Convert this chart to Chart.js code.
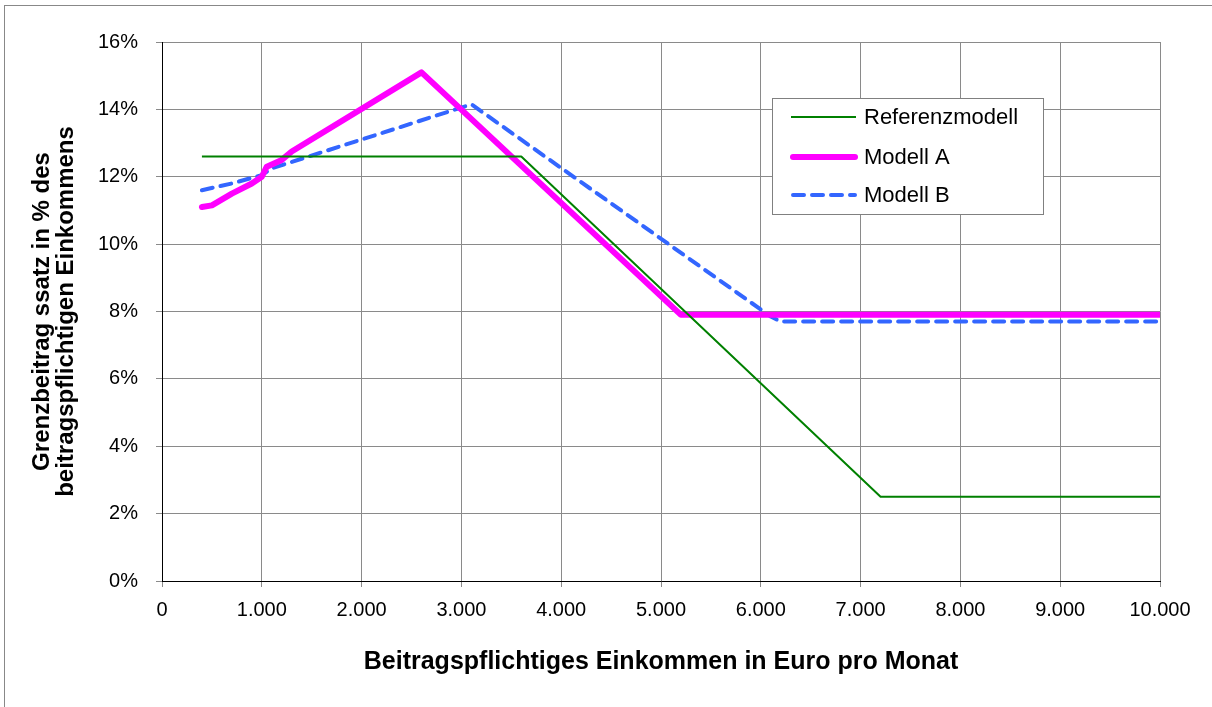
<!DOCTYPE html>
<html lang="de">
<head>
<meta charset="UTF-8">
<title>Grenzbeitragssatz</title>
<script src="https://cdn.jsdelivr.net/npm/chart.js"></script>
<style>
  html, body { margin: 0; padding: 0; background: #fff; }
  #frame { position: absolute; left: 4px; top: 5px; width: 1208px; height: 702px;
           border-top: 1px solid #888; border-left: 1px solid #888; box-sizing: border-box; }
  #wrap { position: absolute; left: 0; top: 0; width: 1212px; height: 707px; }
</style>
</head>
<body>
<div id="frame"></div>
<div id="wrap"><canvas id="chart" width="1212" height="707"></canvas></div>
<script>
// values: [Einkommen, Grenzbeitragssatz in %]
const referenzX = [400, 3600, 7200, 10000];
const referenzY = [12.6, 12.6, 2.5, 2.5];

const modellAX = [400, 500, 700, 900, 1000, 1050, 1200, 1300, 2600, 5200, 10000];
const modellAY = [11.1, 11.15, 11.5, 11.8, 12.0, 12.3, 12.5, 12.75, 15.1, 7.9, 7.9];

const modellBX = [400, 700, 1000, 1100, 3100, 6100, 6200, 10000];
const modellBY = [11.6, 11.8, 12.05, 12.25, 14.15, 7.85, 7.7, 7.7];

const seriesNames = ["Referenzmodell", "Modell A", "Modell B"];
const xTicks = [0, 1000, 2000, 3000, 4000, 5000, 6000, 7000, 8000, 9000, 10000];
const yTicks = [0, 2, 4, 6, 8, 10, 12, 14, 16];

const FONT = "'Liberation Sans', Arial, sans-serif";

function toPoints(xs, ys) {
    return xs.map((x, i) => ({ x: x, y: ys[i] }));
}

// legend box inside the plot, like the Excel original
const boxLegend = {
    id: "boxLegend",
    afterDatasetsDraw(chart) {
        const ctx = chart.ctx;
        const left = 772, top = 98, w = 271, h = 116;
        ctx.save();
        ctx.fillStyle = "#fff";
        ctx.fillRect(left, top, w, h);
        ctx.strokeStyle = "#808080";
        ctx.lineWidth = 1;
        ctx.strokeRect(left + 0.5, top + 0.5, w, h);
        const rows = [117, 157, 195];
        chart.data.datasets.forEach((ds, i) => {
            ctx.beginPath();
            ctx.strokeStyle = ds.borderColor;
            ctx.lineWidth = ds.borderWidth;
            ctx.lineCap = ds.borderCapStyle || "butt";
            ctx.setLineDash(ds.borderDash || []);
            ctx.moveTo(i === 0 ? 791 : 793, rows[i]);
            ctx.lineTo(i === 0 ? 856 : 855, rows[i]);
            ctx.stroke();
            ctx.setLineDash([]);
            ctx.fillStyle = "#000";
            ctx.font = "22px " + FONT;
            ctx.textBaseline = "middle";
            ctx.fillText(ds.label, 864, rows[i] + 1);
        });
        ctx.restore();
    }
};

new Chart(document.getElementById("chart"), {
    type: "line",
    data: {
        datasets: [
            {
                label: seriesNames[0],
                data: toPoints(referenzX, referenzY),
                borderColor: "#008000",
                borderWidth: 2,
                borderJoinStyle: "round",
                pointRadius: 0,
                tension: 0
            },
            {
                label: seriesNames[1],
                data: toPoints(modellAX, modellAY),
                borderColor: "#ff00ff",
                borderWidth: 6,
                borderCapStyle: "round",
                borderJoinStyle: "round",
                pointRadius: 0,
                tension: 0
            },
            {
                label: seriesNames[2],
                data: toPoints(modellBX, modellBY),
                borderColor: "#3366ff",
                borderWidth: 4,
                borderDash: [11, 8],
                borderCapStyle: "round",
                borderJoinStyle: "round",
                pointRadius: 0,
                tension: 0
            }
        ]
    },
    options: {
        responsive: false,
        animation: false,
        layout: { padding: { top: 42, right: 52, left: 0, bottom: 30 } },
        plugins: {
            legend: { display: false },
            tooltip: { enabled: false }
        },
        scales: {
            x: {
                type: "linear",
                min: 0,
                max: 10000,
                afterBuildTicks(scale) { scale.ticks = xTicks.map(v => ({ value: v })); },
                afterFit(scale) { scale.height = 96; },
                grid: { color: "#8a8a8a", tickLength: 6 },
                border: { color: "#000", width: 1 },
                ticks: {
                    color: "#000",
                    padding: 11,
                    maxRotation: 0,
                    font: { family: FONT, size: 20 },
                    callback: v => v.toLocaleString("de-DE")
                },
                title: {
                    display: true,
                    text: "Beitragspflichtiges Einkommen in Euro pro Monat",
                    color: "#000",
                    padding: { top: 0, bottom: 0 },
                    font: { family: FONT, size: 25, weight: "bold", lineHeight: 1.2 }
                }
            },
            y: {
                min: 0,
                max: 16,
                afterBuildTicks(scale) { scale.ticks = yTicks.map(v => ({ value: v })); },
                afterFit(scale) { scale.width = 162; },
                grid: { color: "#8a8a8a", tickLength: 6 },
                border: { color: "#000", width: 1 },
                ticks: {
                    color: "#000",
                    padding: 18,
                    font: { family: FONT, size: 20 },
                    callback: v => v + "%"
                },
                title: {
                    display: true,
                    text: ["Grenzbeitrag ssatz in % des", "beitragspflichtigen Einkommens"],
                    color: "#000",
                    padding: { top: 30, bottom: 0 },
                    font: { family: FONT, size: 24, weight: "bold", lineHeight: 1.0 }
                }
            }
        }
    },
    plugins: [boxLegend]
});
</script>
</body>
</html>
